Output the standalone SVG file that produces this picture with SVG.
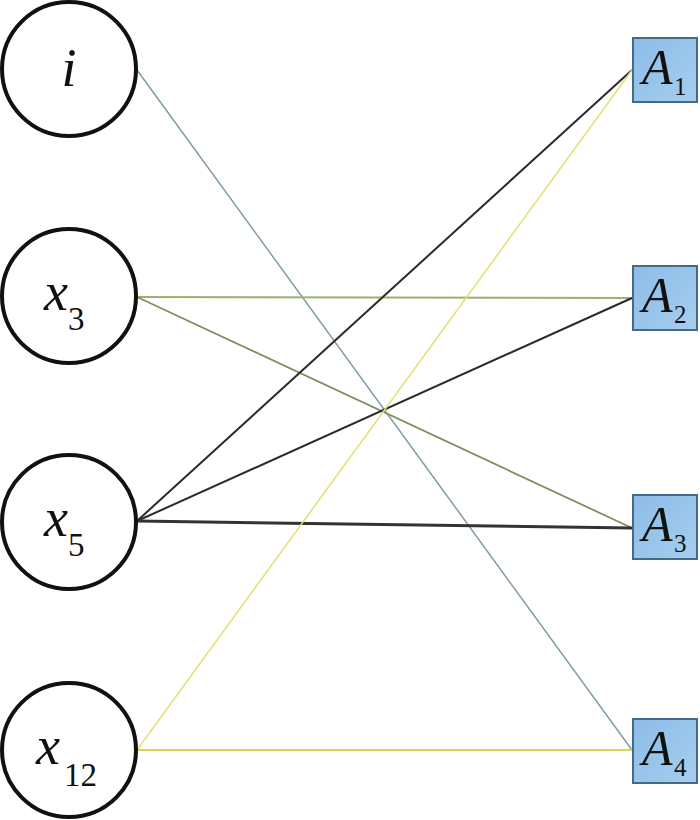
<svg xmlns="http://www.w3.org/2000/svg" width="700" height="820" viewBox="0 0 700 820">
<style>
.c{fill:#fff;stroke:#111;stroke-width:4}
.b{fill:url(#g);stroke:#466a86;stroke-width:2}
text{font-family:'Liberation Serif','Times New Roman',serif;fill:#111}
.t{font-style:italic;font-size:54px}
.s{font-size:33px}
.bt{font-style:italic;font-size:50px}
.bs{font-size:25px}
</style>
<defs>
<linearGradient id="g" x1="0" y1="0" x2="1" y2="1">
<stop offset="0" stop-color="#8cbde8"/>
<stop offset="1" stop-color="#a6cdee"/>
</linearGradient>
</defs>
<g id="connectors" fill="none">
<line x1="137" y1="70" x2="632" y2="750" stroke="#7f9ba8" stroke-width="1.5"/>
<line x1="137" y1="297" x2="632" y2="298" stroke="#9bb070" stroke-width="2"/>
<line x1="137" y1="297" x2="632" y2="528" stroke="#7f9060" stroke-width="1.8"/>
<line x1="137" y1="521" x2="632" y2="70" stroke="#2a2a2a" stroke-width="2"/>
<line x1="137" y1="521" x2="632" y2="298" stroke="#2a2a2a" stroke-width="2"/>
<line x1="137" y1="521" x2="632" y2="528" stroke="#333" stroke-width="3"/>
<line x1="137" y1="750" x2="632" y2="70" stroke="#e2e070" stroke-width="1.5"/>
<line x1="137" y1="750" x2="632" y2="750" stroke="#d8d45a" stroke-width="2"/>
</g>
<g id="n_i"><circle class="c" cx="69" cy="69" r="67"/><text class="t" x="69" y="86" text-anchor="middle">i</text></g>
<g id="n_x3"><circle class="c" cx="69" cy="296" r="67"/><text class="t" x="44" y="310">x</text><text class="s" x="68" y="330">3</text></g>
<g id="n_x5"><circle class="c" cx="69" cy="522" r="67"/><text class="t" x="44" y="536">x</text><text class="s" x="68" y="556">5</text></g>
<g id="n_x12"><circle class="c" cx="69" cy="750" r="67"/><text class="t" x="36" y="764">x</text><text class="s" x="64" y="786">12</text></g>
<g id="n_A1"><rect class="b" x="633" y="38" width="64" height="64"/><text class="bt" x="642" y="84">A</text><text class="bs" x="674" y="95">1</text></g>
<g id="n_A2"><rect class="b" x="633" y="266" width="64" height="64"/><text class="bt" x="642" y="312">A</text><text class="bs" x="674" y="323">2</text></g>
<g id="n_A3"><rect class="b" x="633" y="495" width="64" height="64"/><text class="bt" x="642" y="541">A</text><text class="bs" x="674" y="552">3</text></g>
<g id="n_A4"><rect class="b" x="633" y="719" width="64" height="64"/><text class="bt" x="642" y="765">A</text><text class="bs" x="674" y="776">4</text></g>
</svg>
